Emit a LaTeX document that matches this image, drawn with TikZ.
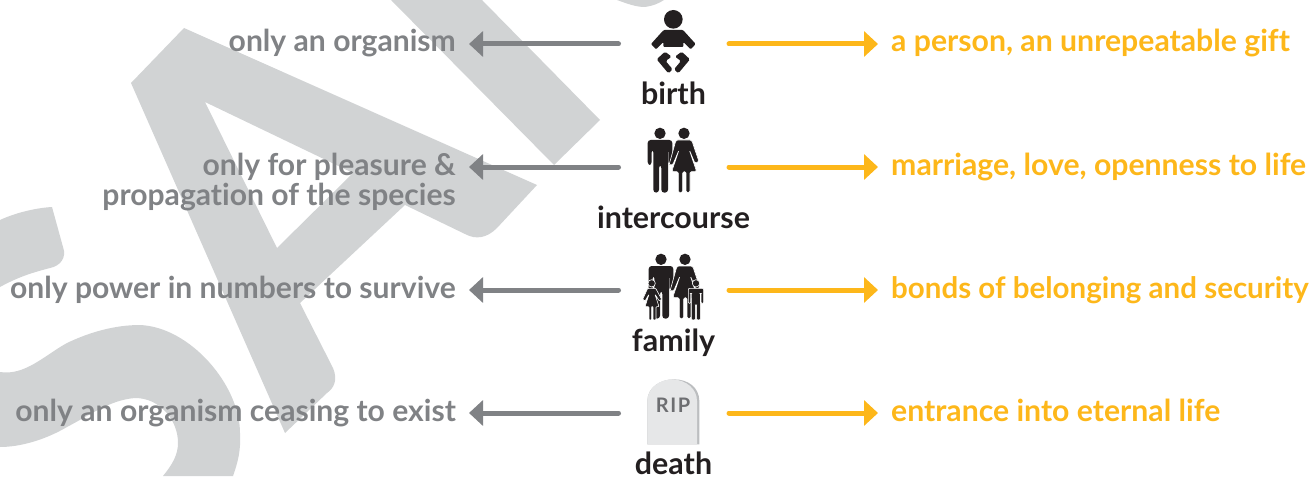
\documentclass[tikz,border=0pt]{standalone}
\usepackage{fontspec}
\setmainfont{Lato}[Ligatures=CommonOff]
\usetikzlibrary{arrows.meta}
\definecolor{wm}{HTML}{D1D3D4}
\definecolor{graytxt}{HTML}{808285}
\definecolor{yel}{HTML}{FDB71A}
\definecolor{ink}{HTML}{231F20}
\definecolor{stone}{HTML}{E6E7E8}
\definecolor{stoneedge}{HTML}{BCBEC0}
\definecolor{riptxt}{HTML}{6D6E71}
\tikzset{
  leftlabel/.style={anchor=base east,align=right,text=graytxt,font=\fontsize{30.1}{30}\selectfont\bfseries,inner sep=0pt},
  rightlabel/.style={anchor=base west,text=yel,font=\fontsize{30.2}{30}\selectfont\bfseries,inner sep=0pt},
  iconlabel/.style={anchor=base,text=ink,font=\fontsize{30.4}{30}\selectfont\bfseries,inner sep=0pt},
  grayarrow/.style={draw=graytxt,line width=5pt,line cap=round,-{Triangle[width=25pt,length=14pt]}},
  yelarrow/.style={draw=yel,line width=5pt,line cap=round,-{Triangle[width=25pt,length=14pt]}},
  icon/.style={fill=ink,draw=none},
  kid/.style={fill=ink,draw=white,line width=.6pt},
  zoomframe/.style={x=0.3333pt,y=-0.3333pt}
}
\newcommand{\couple}{%
  \fill[ink] (180,40) circle (17);
  \fill[ink] (252,40) circle (17);
  \path[icon,rounded corners=3pt] (143,135) -- (143,60) -- (217,60) -- (217,135) -- (206,135) -- (206,88) -- (204,88) -- (204,218) -- (184,218) -- (184,135) -- (177,135) -- (177,218) -- (160,218) -- (160,88) -- (155,88) -- (155,135) -- cycle;
  \path[fill=ink,draw=white,line width=.6pt,rounded corners=1.5pt] (207,135) -- (228,60) -- (275,60) -- (297,125) -- (285,130) -- (268,90) -- (290,155) -- (270,155) -- (270,218) -- (258,218) -- (258,155) -- (248,155) -- (248,218) -- (235,218) -- (235,155) -- (215,155) -- (237,90) -- (218,135) -- cycle;
}
\begin{document}
\begin{tikzpicture}[x=1pt,y=-1pt]
\useasboundingbox (0,0) rectangle (1313,476);
% watermark
\fill[wm,even odd rule] (131,83) -- (184,28) -- (537,185) -- (497,228) .. controls (487,238) and (476,240) .. (465,234) -- (405,205) -- (300,303) -- (333,368) .. controls (338,380) and (334,388) .. (327,393) -- (285,433) -- cycle
 (205,102) -- (277,248) -- (353,173) -- cycle;
\fill[wm] (391,0) -- (482,0) -- (600,120) -- (554,165) -- cycle;
\fill[wm] (617,0) .. controls (628,4) and (636,7) .. (645,7) .. controls (652,6) and (658,4) .. (664,0) -- cycle;
\fill[wm] (0,220) .. controls (15,213) and (35,208) .. (52,207) -- (63,247) .. controls (67,258) and (60,266) .. (50,268) .. controls (35,272) and (20,276) .. (0,287) -- cycle;
\fill[wm] (0,372) .. controls (25,376) and (45,355) .. (67,343) .. controls (90,332) and (115,325) .. (140,325) .. controls (190,327) and (240,385) .. (240,433) .. controls (241,450) and (238,462) .. (233,476) -- (163,476) .. controls (172,465) and (178,455) .. (178,443) .. controls (178,420) and (160,398) .. (135,398) .. controls (110,400) and (90,415) .. (67,427) .. controls (45,440) and (20,447) .. (0,447) -- cycle;
% icons
\begin{scope}[shift={(600,0)},zoomframe]
  \fill[ink] (220,58) circle (28);
  \path[icon,rounded corners=1pt] (191,90) -- (249,90) -- (287,132) -- (272,148) -- (250,126) -- (250,141) -- (190,141) -- (190,126) -- (168,148) -- (153,132) -- cycle;
  \path[icon,rounded corners=1.5pt] (195,155) -- (170,178) -- (205,220) -- (218,208) -- (197,183) -- (215,170) -- cycle;
  \path[icon,rounded corners=1.5pt] (245,155) -- (270,178) -- (235,220) -- (222,208) -- (243,183) -- (225,170) -- cycle;
\end{scope}
\begin{scope}[shift={(600,120)},zoomframe]
  \couple
\end{scope}
\begin{scope}[shift={(601,246)},zoomframe]
  \couple
\end{scope}
\begin{scope}[shift={(600,245)},zoomframe]
  \fill[ink,draw=white,line width=.6pt] (155,115) circle (11);
  \path[kid,rounded corners=.8pt] (143,130) -- (167,130) -- (185,163) -- (178,168) -- (165,148) -- (177,185) -- (168,185) -- (168,225) -- (159,225) -- (159,185) -- (155,185) -- (155,225) -- (147,225) -- (147,185) -- (135,185) -- (147,148) -- (135,168) -- (128,163) -- cycle;
  \fill[ink,draw=white,line width=.6pt] (288,115) circle (11);
  \path[kid,rounded corners=1pt] (265,175) -- (265,130) -- (311,130) -- (311,175) -- (303,175) -- (303,145) -- (301,145) -- (301,225) -- (290,225) -- (290,180) -- (286,180) -- (286,225) -- (274,225) -- (274,145) -- (272,145) -- (272,175) -- cycle;
\end{scope}
\begin{scope}[shift={(600,366)},zoomframe]
  \fill[stoneedge] (142,235) -- (142,105) .. controls (142,65) and (180,40) .. (222,40) .. controls (265,40) and (298,65) .. (298,105) -- (298,235) -- cycle;
  \fill[stone] (142,235) -- (142,105) .. controls (142,65) and (180,40) .. (218,40) .. controls (258,42) and (291,68) .. (291,105) -- (291,235) -- cycle;
\end{scope}
\node[text=riptxt,font=\fontsize{20}{20}\selectfont\bfseries\addfontfeature{LetterSpace=8},inner sep=0pt] (rip) at (673,405) {RIP};
% labels
\node[iconlabel] (birth) at (673.5,105) {birth};
\node[iconlabel] (intercourse) at (673.5,228) {intercourse};
\node[iconlabel] (family) at (673.5,351) {family};
\node[iconlabel] (death) at (673.5,474) {death};
\node[leftlabel] (l1) at (456,52) {only an organism};
\node[leftlabel] (l2) at (456,205) {only for pleasure \&\\propagation of the species};
\node[leftlabel] (l3) at (456,298) {only power in numbers to survive};
\node[leftlabel] (l4) at (456,421) {only an organism ceasing to exist};
\node[rightlabel] (r1) at (891,52) {a person, an unrepeatable gift};
\node[rightlabel] (r2) at (891,175) {marriage, love, openness to life};
\node[rightlabel,font=\fontsize{29.5}{30}\selectfont\bfseries] (r3) at (891,298) {bonds of belonging and security};
\node[rightlabel] (r4) at (891,421) {entrance into eternal life};
% connectors
\foreach \n/\y in {1/44,2/167,3/290,4/413}{
  \coordinate (cl\n) at (618.5,\y);
  \coordinate (gt\n) at (469,\y);
  \coordinate (cr\n) at (729,\y);
  \coordinate (yt\n) at (878,\y);
  \draw[grayarrow] (cl\n) -- (gt\n);
  \draw[yelarrow] (cr\n) -- (yt\n);
}
\end{tikzpicture}
\end{document}
